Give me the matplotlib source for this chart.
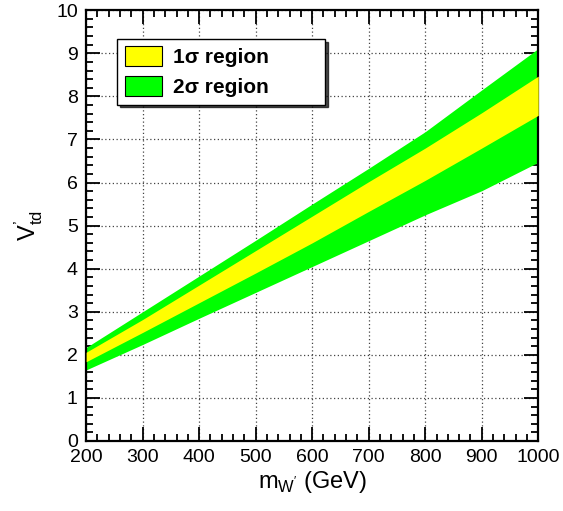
import matplotlib
matplotlib.use("Agg")
import matplotlib.pyplot as plt
from matplotlib.ticker import MultipleLocator

plt.rcParams['font.family'] = ['Liberation Sans', 'DejaVu Sans']
plt.rcParams['mathtext.fontset'] = 'custom'
plt.rcParams['mathtext.rm'] = 'Liberation Sans'

# band edges
mass = [200, 300, 400, 500, 600, 700, 800, 900, 1000]
green_top = [2.17, 3.0, 3.83, 4.66, 5.5, 6.33, 7.18, 8.15, 9.11]
yellow_top = [2.06, 2.82, 3.62, 4.42, 5.22, 6.02, 6.8, 7.62, 8.47]
yellow_bottom = [1.84, 2.52, 3.21, 3.9, 4.6, 5.33, 6.05, 6.8, 7.56]
green_bottom = [1.65, 2.24, 2.85, 3.45, 4.05, 4.65, 5.25, 5.81, 6.47]


def plot_bands():
    fig = plt.figure(figsize=(5.63, 5.11), dpi=100)
    ax = fig.add_axes([0.153, 0.137, 0.803, 0.843])

    ax.fill_between(mass, green_bottom, green_top, color='#00ff00', lw=0, zorder=2)
    ax.fill_between(mass, yellow_bottom, yellow_top, color='#ffff00', lw=0, zorder=3)

    ax.set_xlim(200, 1000)
    ax.set_ylim(0, 10)
    ax.xaxis.set_major_locator(MultipleLocator(100))
    ax.xaxis.set_minor_locator(MultipleLocator(20))
    ax.yaxis.set_major_locator(MultipleLocator(1))
    ax.yaxis.set_minor_locator(MultipleLocator(0.2))
    ax.tick_params(which='both', direction='in', top=True, right=True, width=1.3)
    ax.tick_params(which='major', length=10, labelsize=14, pad=6)
    ax.tick_params(which='minor', length=5)
    for s in ax.spines.values():
        s.set_linewidth(1.6)

    ax.grid(True, which='major', linestyle=(0, (1, 2)), color='#444444', lw=0.9, zorder=1)
    ax.set_axisbelow(True)

    ax.set_xlabel(r"m$_{\mathregular{W'}}$ (GeV)", fontsize=17, labelpad=2)
    ax.set_ylabel(r"V$_{\mathregular{td}}^{\mathregular{’}}$", fontsize=17, labelpad=8)

    h1 = plt.Rectangle((0, 0), 1, 1, fc='#ffff00', ec='black', lw=0.8)
    h2 = plt.Rectangle((0, 0), 1, 1, fc='#00ff00', ec='black', lw=0.8)
    leg = ax.legend([h1, h2], ['1σ region', '2σ region'], loc='upper left',
                    bbox_to_anchor=(0.069, 0.933 - 0.2, 0.46, 0.2), mode='expand',
                    prop={'weight': 'bold', 'size': 15},
                    fancybox=False, framealpha=1, edgecolor='black',
                    shadow={'color': 'black', 'alpha': 0.7},
                    handlelength=1.8, handleheight=1.1, borderpad=0.35,
                    labelspacing=0.42, handletextpad=0.5, borderaxespad=0)
    leg.get_frame().set_linewidth(1.0)

    fig.savefig('out.png', dpi=100)


if __name__ == "__main__":
    plot_bands()
